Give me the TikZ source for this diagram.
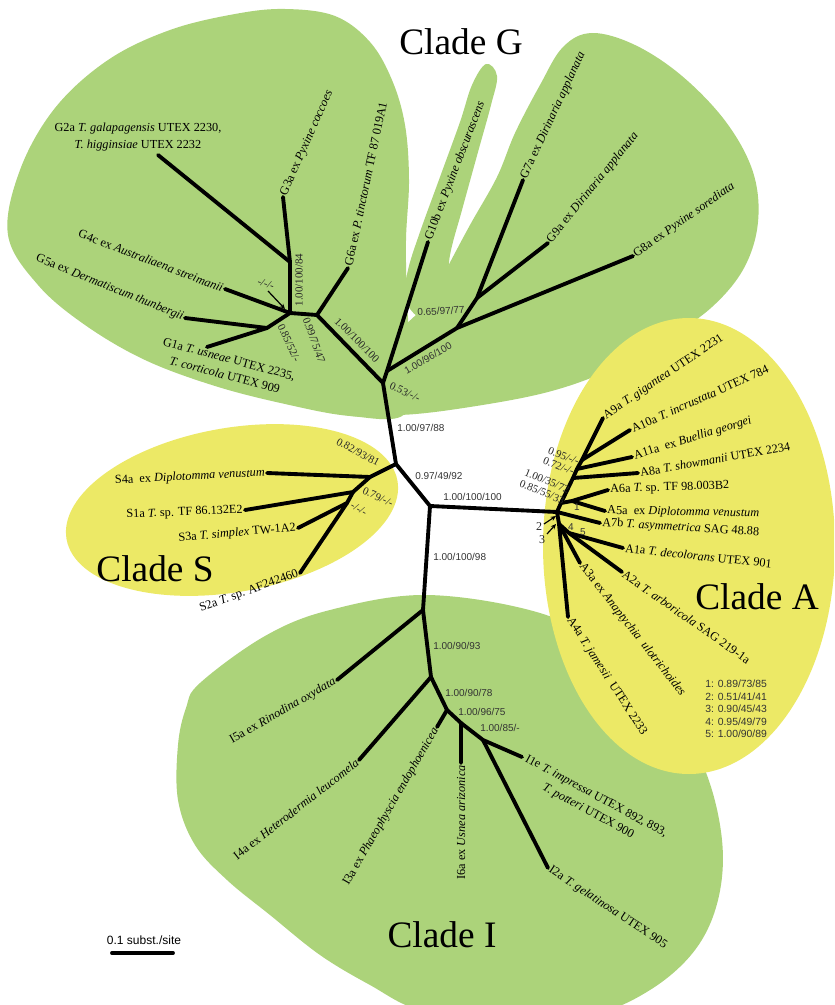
\documentclass[tikz,border=0pt]{standalone}
\usepackage{fontspec}
\setmainfont{Liberation Serif}
\setsansfont{Liberation Sans}
\usetikzlibrary{arrows.meta}
\definecolor{cgreen}{RGB}{172,211,122}
\definecolor{cyellow}{RGB}{236,233,102}
\begin{document}
\begin{tikzpicture}[x=0.75pt,y=-0.75pt,
  br/.style={line width=2.9pt, line cap=round, line join=round},
  leaf/.style={font=\fontsize{9.2}{12.5}\selectfont, inner sep=1.5pt},
  suplab/.style={font=\fontsize{8.2}{9}\selectfont, inner sep=0pt, text=black!85},
  supsans/.style={font=\sffamily\fontsize{7.5}{9}\selectfont, inner sep=0pt, text=black!80},
  cladelab/.style={font=\fontsize{28}{30}\selectfont, inner sep=0pt},
  thinarrow/.style={line width=0.9pt, -{Stealth[length=4pt,width=3.5pt]}}]
\useasboundingbox (0,0) rectangle (834,1005);
\clip (0,0) rectangle (834,1005);
% ---------- backgrounds ----------
\fill[cgreen] plot[smooth cycle, tension=0.6] coordinates {(8,235) (20,170) (55,108) (108,60) (170,30) (235,14) (285,9) (335,16) (370,42) (392,80) (405,125) (409,180) (406,240) (407,300) (410,360) (405,414) (350,416) (285,404) (215,386) (145,360) (85,325) (38,285)};
\fill[cgreen] plot[smooth cycle, tension=0.6] coordinates {(405,300) (408,270) (420,232) (440,177) (460,122) (472,85) (486,64) (497,76) (491,105) (478,152) (462,210) (450,255) (445,300) (425,320)};
\fill[cgreen] plot[smooth cycle, tension=0.6] coordinates {(447,268) (470,225) (497,177) (515,133) (540,85) (563,47) (592,33) (635,45) (682,76) (726,122) (753,172) (758,222) (744,268) (712,307) (665,340) (610,370) (548,392) (470,407) (400,415) (340,412) (360,370) (400,330) (430,300)};
\fill[cgreen] plot[smooth cycle, tension=0.6] coordinates {(200,683) (265,636) (330,610) (427,595) (540,613) (610,650) (668,705) (705,770) (722,840) (718,900) (695,950) (650,990) (590,1015) (500,1020) (420,1010) (370,985) (320,955) (270,915) (227,880) (195,845) (178,800) (178,745) (186,708)};
\fill[cyellow, rotate around={10:(232,510)}] (232,510) ellipse [x radius=168, y radius=82];
\fill[cyellow] (689,546) ellipse [x radius=146, y radius=228];
% ---------- coordinates ----------
\coordinate (root) at (430,506);
\coordinate (sGS) at (396,464);
\coordinate (sG) at (383,383);
\coordinate (gA) at (387,371);
\coordinate (g79b) at (457,328);
\coordinate (g79) at (477,298);
\coordinate (gL) at (317,315);
\coordinate (gL2) at (290,313);
\coordinate (g23) at (290,262);
\coordinate (g15) at (267,328);
\coordinate (tG2) at (158,155);
\coordinate (tG3) at (283,197);
\coordinate (tG4) at (225,289);
\coordinate (tG5) at (185,318);
\coordinate (tG1) at (207,347);
\coordinate (tG6) at (348,268);
\coordinate (tG10) at (428,242);
\coordinate (tG7) at (523,180);
\coordinate (tG9) at (548,243);
\coordinate (tG8) at (633,256);
\coordinate (sS) at (370,477);
\coordinate (sS2) at (353,492);
\coordinate (sS3) at (347,503);
\coordinate (tS4) at (267,473);
\coordinate (tS1) at (245,510);
\coordinate (tS3) at (298,528);
\coordinate (tS2) at (300,573);
\coordinate (aC) at (557,512);
\coordinate (aB1) at (561,503);
\coordinate (aB2) at (573,478);
\coordinate (aB3) at (577,469);
\coordinate (aB4) at (582,460);
\coordinate (a1) at (572,501);
\coordinate (a4) at (559,524);
\coordinate (a5) at (569,533);
\coordinate (tA9) at (603,418);
\coordinate (tA10) at (630,430);
\coordinate (tA11) at (632,457);
\coordinate (tA8) at (638,473);
\coordinate (tA6) at (608,490);
\coordinate (tA5) at (605,511);
\coordinate (tA7) at (600,523);
\coordinate (tA1) at (623,548);
\coordinate (tA2) at (622,572);
\coordinate (tA3) at (580,563);
\coordinate (tA4) at (568,617);
\coordinate (i1) at (423,610);
\coordinate (i2) at (431,677);
\coordinate (i3) at (447,710);
\coordinate (i4) at (461,723);
\coordinate (i5) at (483,740);
\coordinate (tI5) at (337,680);
\coordinate (tI4) at (359,760);
\coordinate (tI3) at (437,727);
\coordinate (tI6) at (461,763);
\coordinate (tI1) at (522,757);
\coordinate (tI2) at (548,868);
% ---------- branches ----------
\draw[br] (root) -- (aC);
\draw[br] (root) -- (sGS) -- (sG) -- (gA);
\draw[br] (sGS) -- (sS);
\draw[br] (sG) -- (gL);
\draw[br] (gA) -- (tG10);
\draw[br] (gA) -- (g79b) -- (tG8);
\draw[br] (g79b) -- (g79) -- (tG7);
\draw[br] (g79) -- (tG9);
\draw[br] (gL) -- (tG6);
\draw[br] (gL) -- (gL2) -- (g23) -- (tG2);
\draw[br] (g23) -- (tG3);
\draw[br] (gL2) -- (tG4);
\draw[br] (gL2) -- (g15) -- (tG5);
\draw[br] (g15) -- (tG1);
\draw[br] (sS) -- (tS4);
\draw[br] (sS) -- (sS2) -- (tS1);
\draw[br] (sS2) -- (sS3) -- (tS3);
\draw[br] (sS3) -- (tS2);
\draw[br] (aC) -- (aB1) -- (aB2) -- (aB3) -- (aB4) -- (tA9);
\draw[br] (aB4) -- (tA10);
\draw[br] (aB3) -- (tA11);
\draw[br] (aB2) -- (tA8);
\draw[br] (aB1) -- (a1) -- (tA6);
\draw[br] (a1) -- (tA5);
\draw[br] (aC) -- (tA7);
\draw[br] (aC) -- (a4) -- (tA4);
\draw[br] (a4) -- (a5) -- (tA1);
\draw[br] (a5) -- (tA2);
\draw[br] (a4) -- (tA3);
\draw[br] (root) -- (i1) -- (tI5);
\draw[br] (i1) -- (i2) -- (tI4);
\draw[br] (i2) -- (i3) -- (tI3);
\draw[br] (i3) -- (i4) -- (tI6);
\draw[br] (i4) -- (i5) -- (tI1);
\draw[br] (i5) -- (tI2);
% ---------- leaf labels ----------
\node[leaf, align=center] (lG2) at (138,137) {G2a \textit{T. galapagensis} UTEX 2230,\\ \textit{T. higginsiae} UTEX 2232};
\node[leaf, rotate=66, anchor=west] (lG3) at (tG3) {G3a ex \textit{Pyxine coccoes}};
\node[leaf, rotate=78, anchor=west] (lG6) at (tG6) {G6a ex \textit{P. tinctorum} TF 87 019A1};
\node[leaf, rotate=69, anchor=west] (lG10) at (tG10) {G10b ex \textit{Pyxine obscurascens}};
\node[leaf, rotate=65, anchor=west] (lG7) at (tG7) {G7a ex \textit{Dirinaria applanata}};
\node[leaf, rotate=51, anchor=west] (lG9) at (tG9) {G9a ex \textit{Dirinaria applanata}};
\node[leaf, rotate=35, anchor=west] (lG8) at (tG8) {G8a ex \textit{Pyxine sorediata}};
\node[leaf, rotate=-21, anchor=east] (lG4) at (tG4) {G4c ex \textit{Australiaena streimanii}};
\node[leaf, rotate=-22, anchor=east] (lG5) at (tG5) {G5a ex \textit{Dermatiscum thunbergii}};
\node[leaf, rotate=-15, align=center] (lG1) at (227,367) {G1a \textit{T. usneae} UTEX 2235,\\ \textit{T. corticola} UTEX 909};
\node[leaf, rotate=3, anchor=east] (lS4) at (tS4) {S4a\ \ ex \textit{Diplotomma venustum}};
\node[leaf, rotate=2.5, anchor=east] (lS1) at (tS1) {S1a \textit{T.} sp. TF 86.132E2};
\node[leaf, rotate=5, anchor=east] (lS3) at (tS3) {S3a \textit{T. simplex} TW-1A2};
\node[leaf, rotate=20, anchor=east] (lS2) at (tS2) {S2a \textit{T.} sp. AF242460};
\node[leaf, rotate=34, anchor=west] (lA9) at (tA9) {A9a \textit{T. gigantea} UTEX 2231};
\node[leaf, rotate=24, anchor=west] (lA10) at (tA10) {A10a \textit{T. incrustata} UTEX 784};
\node[leaf, rotate=17, anchor=west] (lA11) at (tA11) {A11a\ \ ex \textit{Buellia georgei}};
\node[leaf, rotate=10, anchor=west] (lA8) at (tA8) {A8a \textit{T. showmanii} UTEX 2234};
\node[leaf, rotate=2, anchor=west] (lA6) at (tA6) {A6a \textit{T.} sp. TF 98.003B2};
\node[leaf, rotate=-1, anchor=west] (lA5) at (tA5) {A5a\ \ ex \textit{Diplotomma venustum}};
\node[leaf, rotate=-3.5, anchor=west] (lA7) at (tA7) {A7b \textit{T. asymmetrica} SAG 48.88};
\node[leaf, rotate=-6, anchor=west] (lA1) at (tA1) {A1a \textit{T. decolorans} UTEX 901};
\node[leaf, rotate=-35, anchor=west] (lA2) at (tA2) {A2a \textit{T. arboricola} SAG 219-1a};
\node[leaf, rotate=-52, anchor=west] (lA3) at (tA3) {A3a ex \textit{Anaptychia\ \ ulotrichoides}};
\node[leaf, rotate=-57, anchor=west] (lA4) at (tA4) {A4a \textit{T. jamesii}\ \ UTEX 2233};
\node[leaf, rotate=30, anchor=east] (lI5) at (tI5) {I5a ex \textit{Rinodina oxydata}};
\node[leaf, rotate=38, anchor=east] (lI4) at (tI4) {I4a ex \textit{Heterodermia leucomela}};
\node[leaf, rotate=60, anchor=east] (lI3) at (tI3) {I3a ex \textit{Phaeophyscia endophoenicea}};
\node[leaf, rotate=90, anchor=east] (lI6) at (tI6) {I6a ex \textit{Usnea arizonica}};
\node[leaf, rotate=-28.5, align=center] (lI1) at (592,804) {I1e \textit{T. impressa} UTEX 892, 893,\\ \textit{T. potteri} UTEX 900};
\node[leaf, rotate=-33.5, anchor=west] (lI2) at (tI2) {I2a \textit{T. gelatinosa} UTEX 905};
% ---------- support values ----------
\node[suplab, rotate=90] (s1) at (299,280) {1.00/100/84};
\node[suplab, rotate=-20] (s2) at (266,284) {-/-/-};
\coordinate (s2e) at (285,309);
\draw[thinarrow] (268,291) -- (s2e);
\node[suplab, rotate=-65] (s3) at (289,343) {0.85/52/-};
\node[suplab, rotate=-70] (s4) at (314,340) {0.99/75/47};
\node[suplab, rotate=-45] (s5) at (357,340) {1.00/100/100};
\node[suplab, rotate=-25] (s6) at (405,392) {0.53/-/-};
\node[supsans, rotate=30] (s7) at (428,358) {1.00/96/100};
\node[supsans, rotate=3] (s8) at (441,311) {0.65/97/77};
\node[suplab, rotate=-28] (s9) at (358,452) {0.82/93/81};
\node[suplab, rotate=-25] (s10) at (378,497) {0.79/-/-};
\node[suplab, rotate=-30] (s11) at (359,509) {-/-/-};
\node[supsans, anchor=west] (s12) at (397,428) {1.00/97/88};
\node[supsans, anchor=west] (s13) at (415,476) {0.97/49/92};
\node[supsans, anchor=west] (s14) at (443,497) {1.00/100/100};
\node[supsans, anchor=west] (s15) at (433,557) {1.00/100/98};
\node[supsans, anchor=west] (s16) at (433,646) {1.00/90/93};
\node[supsans, anchor=west] (s17) at (445,693) {1.00/90/78};
\node[supsans, anchor=west] (s18) at (458,712) {1.00/96/75};
\node[supsans, anchor=west] (s19) at (480,728) {1.00/85/-};
\node[suplab, rotate=-22, anchor=east] (s20) at (579,462) {0.95/-/-};
\node[suplab, rotate=-22, anchor=east] (s21) at (574,472) {0.72/-/-};
\node[suplab, rotate=-22, anchor=east] (s22) at (569,490) {1.00/35/72};
\node[suplab, rotate=-22, anchor=east] (s23) at (564,501) {0.85/55/33};
\node[supsans] (n1) at (577,507) {1};
\node[supsans] (n4) at (571,527) {4};
\node[supsans] (n5) at (583,532) {5};
\node[suplab, font=\fontsize{9}{10}\selectfont] (n2) at (539,527) {2};
\node[suplab, font=\fontsize{9}{10}\selectfont] (n3) at (542,540) {3};
\coordinate (n2e) at (556,516);
\coordinate (n3e) at (556,524);
\draw[thinarrow] (544,524) -- (n2e);
\draw[thinarrow] (547,534) -- (n3e);
\node[supsans, font=\sffamily\fontsize{7.8}{9.4}\selectfont, align=left, anchor=north west] (legend) at (705,680) {1: 0.89/73/85\\2: 0.51/41/41\\3: 0.90/45/43\\4: 0.95/49/79\\5: 1.00/90/89};
% ---------- clade titles ----------
\node[cladelab] (cG) at (461,42) {Clade G};
\node[cladelab] (cS) at (155,569) {Clade S};
\node[cladelab] (cA) at (757,597) {Clade A};
\node[cladelab] (cI) at (442,935) {Clade I};
% ---------- scale bar ----------
\node[font=\sffamily\fontsize{9}{10}\selectfont, inner sep=0pt] (sc) at (144,940) {0.1 subst./site};
\coordinate (scL) at (112,953);
\coordinate (scR) at (173,953);
\draw[br] (scL) -- (scR);
\end{tikzpicture}
\end{document}
